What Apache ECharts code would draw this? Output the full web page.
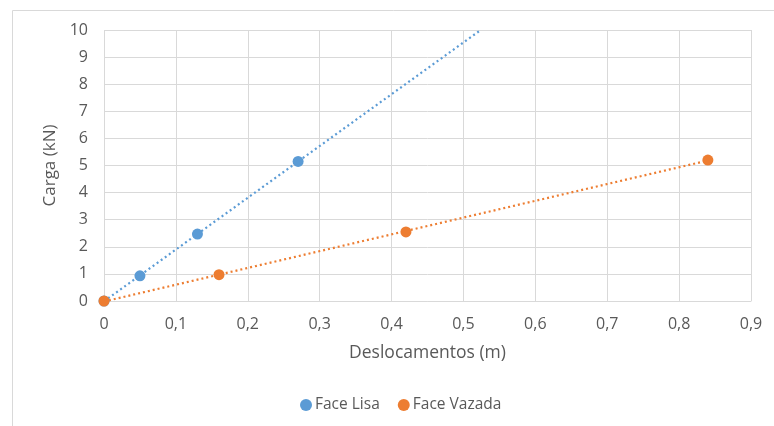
<!DOCTYPE html>
<html><head><meta charset="utf-8">
<script src="https://cdn.jsdelivr.net/npm/echarts@6/dist/echarts.min.js"></script>
<style>html,body{margin:0;padding:0;background:#fff}#c{width:774px;height:426px}</style>
</head><body><div id="c"></div>
<script>
const lisaX = [0, 0.05, 0.13, 0.27];
const lisaY = [0, 0.93, 2.47, 5.15];
const vazX = [0, 0.16, 0.42, 0.84];
const vazY = [0, 0.97, 2.55, 5.2];
const xTicks = ['0','0,1','0,2','0,3','0,4','0,5','0,6','0,7','0,8','0,9'];
const seriesNames = ['Face Lisa', 'Face Vazada'];

function fit(xs, ys) {
  const n = xs.length;
  const mx = xs.reduce((a,b)=>a+b,0)/n, my = ys.reduce((a,b)=>a+b,0)/n;
  let sxx=0, sxy=0;
  for (let i=0;i<n;i++){ sxx+=(xs[i]-mx)**2; sxy+=(xs[i]-mx)*(ys[i]-my); }
  const m = sxy/sxx; return {m, b: my - m*mx};
}
const YMAX = 10, XMAX = 0.9;
function trend(xs, ys, forecast) {
  const f = fit(xs, ys);
  const x0 = Math.min(...xs);
  let x1 = Math.max(...xs);
  if (forecast) x1 = Math.min(XMAX, (YMAX - f.b)/f.m);
  return [[x0, f.m*x0+f.b], [x1, f.m*x1+f.b]];
}
const blue = '#5B9BD5', orange = '#ED7D31';
const pts = (xs, ys) => xs.map((x,i)=>[x, ys[i]]);
const font = 'Open Sans';
const chart = echarts.init(document.getElementById('c'), null, {renderer:'canvas'});
chart.setOption({
  animation: false,
  textStyle: {fontFamily: font},
  graphic: [{type:'rect', shape:{x:12.5, y:10.5, width:800, height:500}, style:{fill:null, stroke:'#d9d9d9', lineWidth:1}, silent:true}],
  grid: {left:104, top:30, right:23, bottom:125, containLabel:false},
  xAxis: {
    type:'value', min:0, max:XMAX, interval:0.1,
    name:'Deslocamentos (m)', nameLocation:'middle', nameGap:43,
    nameTextStyle:{color:'#595959', fontSize:17.5, fontFamily:font},
    axisLine:{show:true, lineStyle:{color:'#d9d9d9'}},
    axisTick:{show:false},
    axisLabel:{color:'#595959', fontSize:16, margin:15, formatter:(v)=>xTicks[Math.round(v*10)]},
    splitLine:{show:true, lineStyle:{color:'#d9d9d9'}}
  },
  yAxis: {
    type:'value', min:0, max:YMAX, interval:1,
    name:'Carga (kN)', nameLocation:'middle', nameGap:45, nameRotate:90,
    nameTextStyle:{color:'#595959', fontSize:17, fontFamily:font},
    axisLine:{show:false}, axisTick:{show:false},
    axisLabel:{color:'#595959', fontSize:16, margin:16},
    splitLine:{show:true, lineStyle:{color:'#d9d9d9'}}
  },
  legend: {
    data: seriesNames, bottom: 8, left:295, icon:'circle', itemWidth:12, itemHeight:12, itemGap:18,
    textStyle:{color:'#595959', fontSize:15.5, fontFamily:font, padding:[0,0,0,-2]}
  },
  series: [
    {name:'trendL', type:'line', data: trend(lisaX, lisaY, true), showSymbol:false, lineStyle:{color:blue, width:2.2, type:[2,3]}, z:1, clip:true},
    {name:'trendV', type:'line', data: trend(vazX, vazY, false), showSymbol:false, lineStyle:{color:orange, width:2.2, type:[2,3]}, z:1, clip:true},
    {name:seriesNames[0], type:'scatter', data: pts(lisaX, lisaY), symbolSize:11, itemStyle:{color:blue, opacity:1}, z:3, clip:false},
    {name:seriesNames[1], type:'scatter', data: pts(vazX, vazY), symbolSize:11, itemStyle:{color:orange, opacity:1}, z:4, clip:false}
  ]
});
</script></body></html>
